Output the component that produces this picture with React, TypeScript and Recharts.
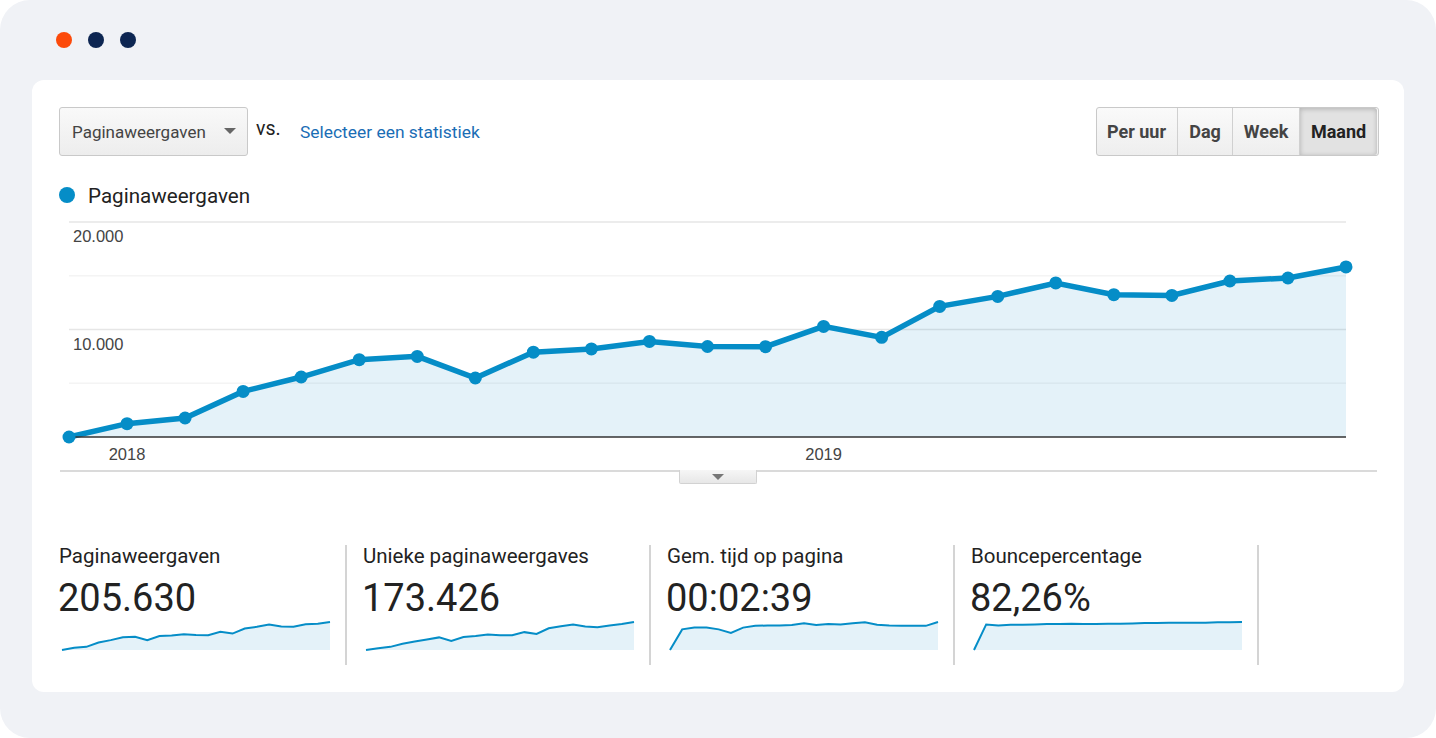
import React from 'react';
import { ComposedChart, AreaChart, Area, XAxis, YAxis, ReferenceLine } from 'recharts';

// ---- Data ----
const months = [
  '2017-12', '2018-01', '2018-02', '2018-03', '2018-04', '2018-05', '2018-06', '2018-07',
  '2018-08', '2018-09', '2018-10', '2018-11', '2018-12', '2019-01', '2019-02', '2019-03',
  '2019-04', '2019-05', '2019-06', '2019-07', '2019-08', '2019-09', '2019-10',
];
const pageviews = [
  0, 1240, 1770, 4240, 5580, 7190, 7500, 5490, 7890, 8190, 8890, 8420,
  8400, 10290, 9270, 12150, 13080, 14330, 13240, 13170, 14510, 14790, 15820,
];
const uniquePageviews = [
  0, 860, 1550, 3090, 4130, 5160, 6190, 4470, 6360, 6880, 7560, 7220,
  7220, 8770, 7910, 10660, 11690, 12550, 11520, 11170, 12030, 12720, 13750,
];
const avgTimeSeconds = [
  0, 140, 152, 152, 140, 116, 152, 164, 166, 166, 169, 181,
  169, 176, 173, 181, 188, 171, 166, 164, 164, 164, 190,
];
const bounceRate = [
  0, 77.6, 74.4, 76.5, 76.5, 77.6, 78.6, 78.6, 79.7, 78.6, 78.6, 79.7,
  79.7, 80.8, 81.8, 81.8, 82.9, 82.9, 82.9, 82.9, 83.9, 83.9, 85.0,
];
const yTicks = [0, 10000, 20000];
const majorGrid = [10000, 20000];
const minorGrid = [5000, 15000];
const yearTicks = ['2018-01', '2019-01'];
const metricTitles = ['Paginaweergaven', 'Unieke paginaweergaves', 'Gem. tijd op pagina', 'Bouncepercentage'];
const metricValues = ['205.630', '173.426', '00:02:39', '82,26%'];
const metricSeries = [pageviews, uniquePageviews, avgTimeSeconds, bounceRate];
const periodButtons = ['Per uur', 'Dag', 'Week', 'Maand'];
const metricName = 'Paginaweergaven';

const mainData = months.map((m, i) => ({ month: m, pageviews: pageviews[i] }));

const BLUE = '#058dc7';
const ROBOTO = 'Roboto, "Noto Sans", sans-serif';
const ARIAL = '"Liberation Sans", Arial, sans-serif';

const fmt = (v: number) => String(v).replace(/\B(?=(\d{3})+(?!\d))/g, '.');

const XTick = (props: any) => {
  const { x, y, payload } = props;
  return (
    <text x={x} y={y} dy={15} fill="#444" fontSize={16.5} fontFamily={ARIAL} textAnchor="middle">
      {String(payload.value).slice(0, 4)}
    </text>
  );
};

const gridLabel = (value: number) => (props: any) => {
  const vb = props.viewBox || {};
  return (
    <text x={(vb.x || 0) + 4} y={(vb.y || 0) + 20} fill="#444" fontSize={16.5} fontFamily={ARIAL} textAnchor="start">
      {fmt(value)}
    </text>
  );
};

const MainDot = (props: any) => {
  const { cx, cy, index } = props;
  if (cx == null || cy == null) return <g key={index} />;
  return <circle key={index} cx={cx} cy={cy} r={6.5} fill={BLUE} fillOpacity={1} stroke="none" />;
};

const Spark = ({ values }: { values: number[] }) => {
  const data = values.map((v, i) => ({ i, v }));
  return (
    <AreaChart width={270} height={31} data={data} margin={{ top: 2, right: 1, bottom: 1, left: 1 }}>
      <XAxis dataKey="i" hide />
      <YAxis hide domain={[0, 'dataMax']} />
      <Area
        type="linear"
        dataKey="v"
        stroke={BLUE}
        strokeWidth={2}
        fill={BLUE}
        fillOpacity={0.11}
        dot={false}
        activeDot={false}
        isAnimationActive={false}
      />
    </AreaChart>
  );
};

const abs = (left: number, top: number, extra: React.CSSProperties = {}): React.CSSProperties => ({
  position: 'absolute',
  left,
  top,
  ...extra,
});

export default function App() {
  const buttonEdges = [1096, 1177, 1232, 1299, 1377];
  const panelX = [59, 363, 667, 971];
  return (
    <div style={{ position: 'absolute', left: 0, top: 0, width: 1436, height: 738, background: '#fff', fontFamily: ROBOTO }}>
      <div style={abs(0, 0, { width: 1436, height: 738, background: '#f0f2f6', borderRadius: 30 })} />
      {/* window dots */}
      <div style={abs(56, 32, { width: 16, height: 16, borderRadius: 8, background: '#fc4a0a' })} />
      <div style={abs(88, 32, { width: 16, height: 16, borderRadius: 8, background: '#0d2652' })} />
      <div style={abs(120, 32, { width: 16, height: 16, borderRadius: 8, background: '#0d2652' })} />
      {/* card */}
      <div style={abs(32, 80, { width: 1372, height: 612, background: '#fff', borderRadius: 12 })} />

      {/* dropdown */}
      <div
        style={abs(59, 107, {
          width: 187,
          height: 47,
          border: '1px solid #c9c9c9',
          borderRadius: 3,
          background: 'linear-gradient(#f9f9f9, #ededed)',
          boxSizing: 'content-box',
        })}
      />
      <div style={abs(72, 124, { fontSize: 17, lineHeight: '17px', color: '#444', whiteSpace: 'nowrap' })}>{metricName}</div>
      <div
        style={abs(224, 128, {
          width: 0,
          height: 0,
          borderLeft: '6px solid transparent',
          borderRight: '6px solid transparent',
          borderTop: '6px solid #666',
        })}
      />
      <div style={abs(256, 119, { fontSize: 19.5, lineHeight: '19px', color: '#222' })}>vs.</div>
      <div style={abs(300, 124, { fontSize: 17.4, lineHeight: '17px', color: '#1a6db5', whiteSpace: 'nowrap' })}>
        Selecteer een statistiek
      </div>

      {/* period buttons */}
      <div
        style={abs(1096, 107, {
          width: 281,
          height: 47,
          border: '1px solid #c9c9c9',
          borderRadius: 3,
          background: 'linear-gradient(#fafafa, #eeeeee)',
          boxSizing: 'content-box',
        })}
      />
      {periodButtons.map((b, i) => {
        const l = buttonEdges[i];
        const w = buttonEdges[i + 1] - l;
        const sel = i === periodButtons.length - 1;
        return (
          <div
            key={b}
            style={abs(l, 108, {
              width: w,
              height: 47,
              borderLeft: i === 0 ? 'none' : '1px solid #d0d0d0',
              boxSizing: 'border-box',
              background: sel ? '#e2e2e2' : 'transparent',
              boxShadow: sel ? 'inset 0 1px 5px rgba(0,0,0,0.22)' : 'none',
              borderRadius: sel ? '0 3px 3px 0' : 0,
              display: 'flex',
              alignItems: 'center',
              justifyContent: 'center',
              fontSize: 18,
              fontWeight: 700,
              color: sel ? '#222' : '#444',
            })}
          >
            {b}
          </div>
        );
      })}

      {/* legend */}
      <div style={abs(59, 187, { width: 16, height: 16, borderRadius: 8, background: BLUE })} />
      <div style={abs(88, 186, { fontSize: 20.6, lineHeight: '20px', color: '#222', whiteSpace: 'nowrap' })}>{metricName}</div>

      {/* main chart */}
      <div style={abs(0, 0)}>
        <ComposedChart width={1436} height={480} data={mainData} margin={{ top: 222, right: 90, bottom: 13, left: 69 }}>
          {minorGrid.map((v) => (
            <ReferenceLine key={'mi' + v} y={v} stroke="#f4f4f4" strokeWidth={1.5} zIndex={-50} />
          ))}
          {majorGrid.map((v) => (
            <ReferenceLine key={'ma' + v} y={v} stroke="#e6e6e6" strokeWidth={1.5} zIndex={-50} label={gridLabel(v)} />
          ))}
          <XAxis
            dataKey="month"
            ticks={yearTicks}
            interval={0}
            tickLine={false}
            axisLine={{ stroke: '#333', strokeWidth: 1.5 }}
            height={30}
            tick={<XTick />}
          />
          <YAxis hide domain={[0, 20000]} ticks={yTicks} />
          <Area
            type="linear"
            dataKey="pageviews"
            stroke={BLUE}
            strokeWidth={5.5}
            fill={BLUE}
            fillOpacity={0.11}
            dot={MainDot}
            activeDot={false}
            isAnimationActive={false}
          />
        </ComposedChart>
      </div>

      {/* separator and tab */}
      <div style={abs(60, 470, { width: 1317, height: 2, background: '#dadada' })} />
      <div
        style={abs(679, 470, {
          width: 76,
          height: 13,
          border: '1px solid #d2d2d2',
          borderTop: 'none',
          borderRadius: '0 0 2px 2px',
          background: 'linear-gradient(#f6f6f6, #e7e7e7)',
          boxSizing: 'content-box',
        })}
      />
      <div
        style={abs(712, 474, {
          width: 0,
          height: 0,
          borderLeft: '6px solid transparent',
          borderRight: '6px solid transparent',
          borderTop: '6px solid #777',
        })}
      />

      {/* metric panels */}
      {panelX.map((x, i) => (
        <React.Fragment key={metricTitles[i]}>
          <div style={abs(x, 546, { fontSize: 20.5, lineHeight: '20px', color: '#222', whiteSpace: 'nowrap' })}>{metricTitles[i]}</div>
          <div style={abs(x - 1, 579, { fontSize: 38, lineHeight: '38px', color: '#222', whiteSpace: 'nowrap' })}>{metricValues[i]}</div>
          <div style={abs(x + 2, 620)}>
            <Spark values={metricSeries[i]} />
          </div>
          <div style={abs(x + 286, 545, { width: 2, height: 120, background: '#d4d4d4' })} />
        </React.Fragment>
      ))}
    </div>
  );
}
